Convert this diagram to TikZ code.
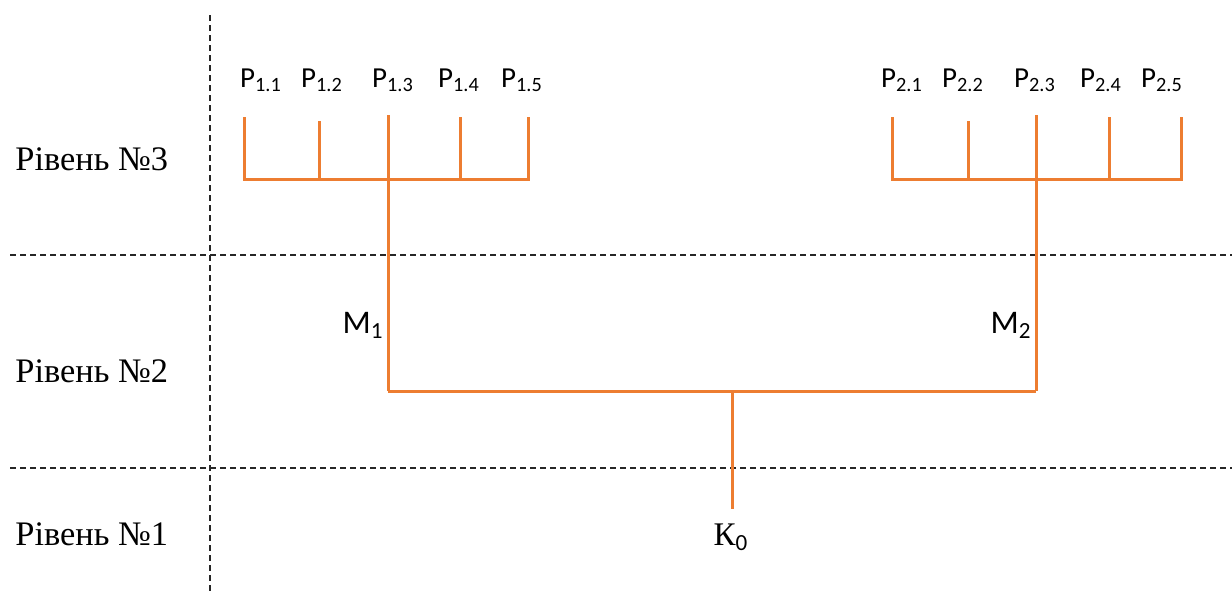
\documentclass[tikz,border=0pt]{standalone}
\usepackage{fontspec}
\setmainfont{Liberation Serif}
\newfontfamily\calibri{Carlito}
\usepackage{xcolor}
\usetikzlibrary{positioning}
\definecolor{TreeOrange}{RGB}{237,125,49}
\newcommand{\sublab}[2]{#1\textsubscript{#2}}

\begin{document}
\begin{tikzpicture}[x=0.5pt,y=-0.5pt,every node/.style={inner sep=0pt}]
\tikzset{levelname/.style={font=\fontsize{17.2}{20}\selectfont,anchor=base west},
  pname/.style={font=\calibri\fontsize{14.5}{16}\selectfont,anchor=base},
  mname/.style={font=\calibri\fontsize{16.5}{18}\selectfont,anchor=base east},
  branch/.style={draw=TreeOrange,line width=1.5pt},
  divider/.style={draw=black!85,line width=0.7pt,dash pattern=on 3pt off 2pt}}
\useasboundingbox (0,0) rectangle (1232,594);
% level borders
\draw[divider] (210,15) -- (210,594);
\draw[divider] (10,255) -- (1232,255);
\draw[divider] (10,468) -- (1232,468);
\node[levelname] (lv3) at (15,170) {Рівень №3};
\node[levelname] (lv2) at (15,382) {Рівень №2};
\node[levelname] (lv1) at (15,545) {Рівень №1};
% labels
\node[pname] (p11) at (261,87) {\sublab{P}{1.1}};
\node[pname] (p12) at (322,87) {\sublab{P}{1.2}};
\node[pname] (p13) at (393,87) {\sublab{P}{1.3}};
\node[pname] (p14) at (459,87) {\sublab{P}{1.4}};
\node[pname] (p15) at (522,87) {\sublab{P}{1.5}};
\node[pname] (p21) at (902,87) {\sublab{P}{2.1}};
\node[pname] (p22) at (963,87) {\sublab{P}{2.2}};
\node[pname] (p23) at (1035,87) {\sublab{P}{2.3}};
\node[pname] (p24) at (1101,87) {\sublab{P}{2.4}};
\node[pname] (p25) at (1162,87) {\sublab{P}{2.5}};
\node[mname] (mA) at (384,333) {\sublab{M}{1}};
\node[mname] (mB) at (1032,333) {\sublab{M}{2}};
\node[anchor=base,font=\fontsize{16.5}{20}\selectfont] (kzero) at (731,545) {К{\calibri\textsubscript{0}}};
% tree
\coordinate (t11) at (244,117);
\coordinate (t12) at (319,121);
\coordinate (t13) at (388,115);
\coordinate (t14) at (460,117);
\coordinate (t15) at (528,117);
\coordinate (t21) at (892,117);
\coordinate (t22) at (968,121);
\coordinate (t23) at (1036,115);
\coordinate (t24) at (1109,117);
\coordinate (t25) at (1181,117);
\coordinate (busA) at (388,179);
\coordinate (busB) at (1036,179);
\coordinate (m1) at (388,391);
\coordinate (m2) at (1036,391);
\coordinate (hub) at (732,391);
\draw[branch] (t11) |- (t15|-busA) -- (t15);
\draw[branch] (t12) -- (t12|-busA);
\draw[branch] (t14) -- (t14|-busA);
\draw[branch] (t13) -- (m1);
\draw[branch] (t21) |- (t25|-busB) -- (t25);
\draw[branch] (t22) -- (t22|-busB);
\draw[branch] (t24) -- (t24|-busB);
\draw[branch] (t23) -- (m2);
\draw[branch] (m1) -- (m2);
\draw[branch,shorten >=7pt] (hub) -- (hub|-kzero.north);
\end{tikzpicture}
\end{document}
